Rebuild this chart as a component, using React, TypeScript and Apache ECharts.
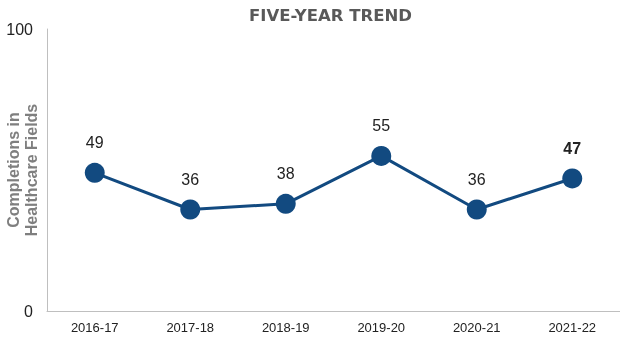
import React, { useEffect, useRef } from "react";
import * as echarts from "echarts";

const categories = ["2016-17", "2017-18", "2018-19", "2019-20", "2020-21", "2021-22"];
const values = [49, 36, 38, 55, 36, 47];

export default function App() {
  const ref = useRef<HTMLDivElement>(null);
  useEffect(() => {
    const chart = echarts.init(ref.current!, null, { renderer: "svg" });
    const last = values.length - 1;
    chart.setOption({
      animation: false,
      textStyle: { fontFamily: "Liberation Sans, Arial, sans-serif" },
      title: {
        text: "FIVE-YEAR TREND",
        left: 244,
        top: 2,
        textStyle: { fontSize: 16.5, fontWeight: "bold", color: "#595959", fontFamily: "DejaVu Sans, sans-serif" },
      },
      grid: { left: 47, right: 0, top: 29, bottom: 26, containLabel: false, outerBoundsMode: "none" },
      xAxis: {
        type: "category",
        data: categories,
        boundaryGap: true,
        axisLine: { lineStyle: { color: "#bfbfbf", width: 1 } },
        axisTick: { show: false },
        axisLabel: { color: "#222", fontSize: 13, margin: 10 },
      },
      yAxis: {
        type: "value",
        min: 0,
        max: 100,
        interval: 100,
        name: "Completions in\nHealthcare Fields",
        nameLocation: "middle",
        nameGap: 7,
        nameMoveOverlap: false,
        nameTextStyle: { color: "#7f7f7f", fontSize: 16, fontWeight: "bold", lineHeight: 18 },
        axisLine: { show: true, lineStyle: { color: "#bfbfbf", width: 1 } },
        axisTick: { show: false },
        splitLine: { show: false },
        axisLabel: { color: "#222", fontSize: 16, margin: 14 },
      },
      series: [
        {
          type: "line",
          data: values.map((v, i) => ({
            value: v,
            label: i === last ? { fontWeight: "bold" } : undefined,
          })),
          symbol: "circle",
          symbolSize: 20,
          lineStyle: { color: "#124a80", width: 3 },
          itemStyle: { color: "#124a80" },
          label: { show: true, position: "top", distance: 12, color: "#222", fontSize: 16 },
        },
      ],
    });
    return () => chart.dispose();
  }, []);
  return <div ref={ref} style={{ position: "fixed", left: 0, top: 0, width: 620, height: 337 }} />;
}
